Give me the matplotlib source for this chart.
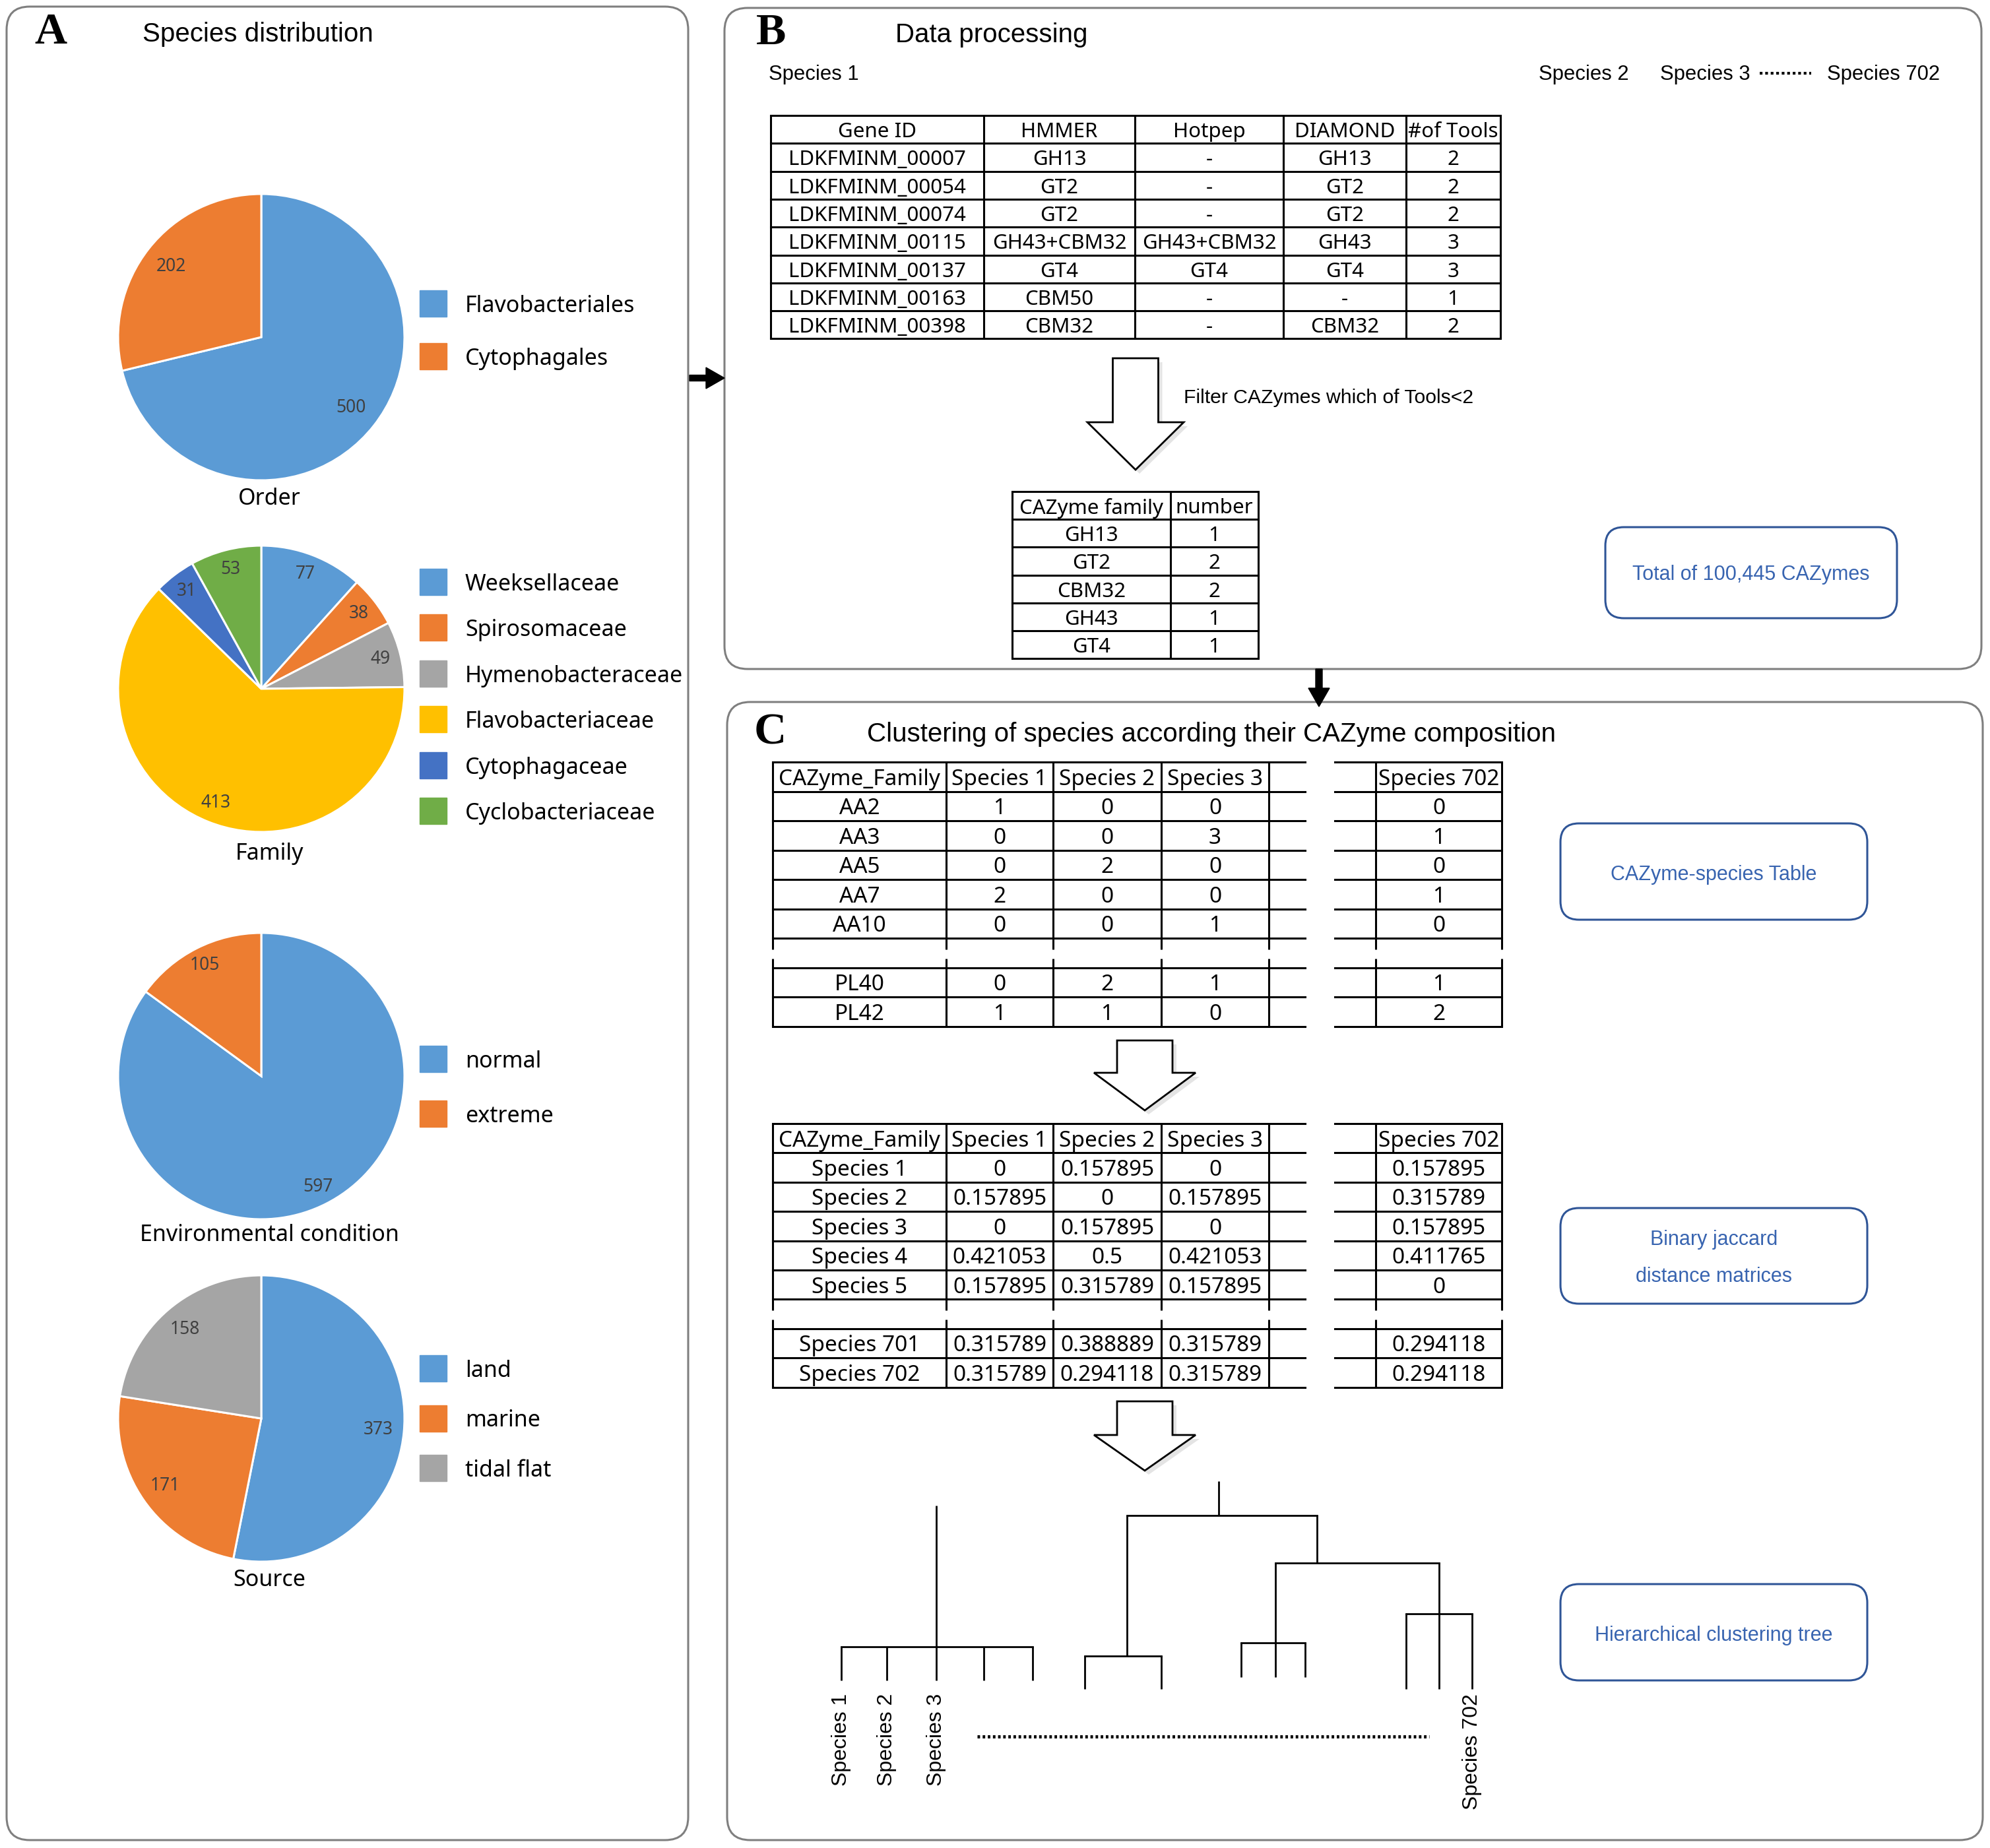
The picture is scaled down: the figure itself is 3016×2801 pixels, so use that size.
import matplotlib.pyplot as plt
from matplotlib.patches import FancyBboxPatch, Rectangle, Polygon, FancyArrow

W, H = 3016, 2801
SANS = ['Noto Sans', 'DejaVu Sans']
ARIAL = ['Liberation Sans', 'DejaVu Sans']
SERIF = ['Liberation Serif', 'DejaVu Serif']

# ---------------- panel A data
order_names = ["Flavobacteriales", "Cytophagales"]
order_n = [500, 202]
family_names = ["Weeksellaceae", "Spirosomaceae", "Hymenobacteraceae",
                "Flavobacteriaceae", "Cytophagaceae", "Cyclobacteriaceae"]
family_n = [77, 38, 49, 413, 31, 53]
env_names = ["normal", "extreme"]
env_n = [597, 105]
source_names = ["land", "marine", "tidal flat"]
source_n = [373, 171, 158]

# ---------------- panel B data
top_species = ["Species 1", "Species 2", "Species 3", "Species 702"]
b_header = ["Gene ID", "HMMER", "Hotpep", "DIAMOND", "#of Tools"]
gene_id = ["LDKFMINM_00007", "LDKFMINM_00054", "LDKFMINM_00074", "LDKFMINM_00115",
           "LDKFMINM_00137", "LDKFMINM_00163", "LDKFMINM_00398"]
hmmer = ["GH13", "GT2", "GT2", "GH43+CBM32", "GT4", "CBM50", "CBM32"]
hotpep = ["-", "-", "-", "GH43+CBM32", "GT4", "-", "-"]
diamond = ["GH13", "GT2", "GT2", "GH43", "GT4", "-", "CBM32"]
n_tools = [2, 2, 2, 3, 3, 1, 2]
fam_header = ["CAZyme family", "number"]
fam_name = ["GH13", "GT2", "CBM32", "GH43", "GT4"]
fam_num = [1, 2, 2, 1, 1]

# ---------------- panel C data
c_header = ["CAZyme_Family", "Species 1", "Species 2", "Species 3", "Species 702"]
cazy_rows = ["AA2", "AA3", "AA5", "AA7", "AA10", "PL40", "PL42"]
cnt_sp1 = [1, 0, 0, 2, 0, 0, 1]
cnt_sp2 = [0, 0, 2, 0, 0, 2, 1]
cnt_sp3 = [0, 3, 0, 0, 1, 1, 0]
cnt_sp702 = [0, 1, 0, 1, 0, 1, 2]
dist_rows = ["Species 1", "Species 2", "Species 3", "Species 4", "Species 5",
             "Species 701", "Species 702"]
dist_sp1 = ["0", "0.157895", "0", "0.421053", "0.157895", "0.315789", "0.315789"]
dist_sp2 = ["0.157895", "0", "0.157895", "0.5", "0.315789", "0.388889", "0.294118"]
dist_sp3 = ["0", "0.157895", "0", "0.421053", "0.157895", "0.315789", "0.315789"]
dist_sp702 = ["0.157895", "0.315789", "0.157895", "0.411765", "0", "0.294118", "0.294118"]
tree_labels = ["Species 1", "Species 2", "Species 3", "Species 702"]

blue, orange, grey = '#5B9BD5', '#ED7D31', '#A5A5A5'
yellow, dblue, green = '#FFC000', '#4472C4', '#70AD47'
boxblue = '#2F5597'
LW = 2.2

fig = plt.figure(figsize=(W / 100, H / 100), dpi=100)
ax = fig.add_axes([0, 0, 1, 1])
ax.set_xlim(0, W)
ax.set_ylim(H, 0)
ax.axis('off')


def frame(x0, y0, x1, y1, ec='#7f7f7f', r=35, lw=2.2):
    ax.add_patch(FancyBboxPatch((x0, y0), x1 - x0, y1 - y0,
                                boxstyle=f'round,pad=0,rounding_size={r}',
                                fc='none', ec=ec, lw=lw, zorder=1))


def txt(x, y, s, size, fam=SANS, **kw):
    kw.setdefault('ha', 'center')
    kw.setdefault('va', 'center')
    if kw['va'] == 'center':
        y = y + 4
    ax.text(x, y, s, fontsize=size, family=fam, zorder=5, **kw)


def hline(y, x0, x1, lw=LW):
    ax.plot([x0, x1], [y, y], color='k', lw=lw, solid_capstyle='projecting', zorder=3)


def vline(x, y0, y1, lw=LW):
    ax.plot([x, x], [y0, y1], color='k', lw=lw, solid_capstyle='butt', zorder=3)


# ---------------- frames and labels
frame(10, 10, 1043, 2789)
frame(1098, 12, 3003, 1014)
frame(1102, 1064, 3005, 2789)
txt(52, 66, "A", 49, SERIF, ha='left', va='baseline', weight='bold')
txt(1146, 67, "B", 49, SERIF, ha='left', va='baseline', weight='bold')
txt(1143, 1128, "C", 49, SERIF, ha='left', va='baseline', weight='bold')
txt(216, 48, "Species distribution", 29, ARIAL, ha='left')
txt(1357, 49, "Data processing", 29, ARIAL, ha='left')
txt(1314, 1109, "Clustering of species according their CAZyme composition", 29, ARIAL, ha='left')

# connecting arrows
ax.add_patch(FancyArrow(1045, 573, 53, 0, width=9, head_width=32, head_length=28,
                        length_includes_head=True, color='k', zorder=4))
ax.add_patch(FancyArrow(1999, 1014, 0, 57, width=10, head_width=32, head_length=28,
                        length_includes_head=True, color='k', zorder=4))


# ---------------- panel A pies
def pie(cx, cy, r, counts, names, colors, pctd, title, title_y, leg_y0, leg_dy):
    m = 1.04
    a = fig.add_axes([(cx - r * m) / W, 1 - (cy + r * m) / H, 2 * r * m / W, 2 * r * m / H])
    tot = sum(counts)
    a.pie(counts, colors=colors, startangle=90, counterclock=False, radius=1,
          autopct=lambda p: f'{p * tot / 100:.0f}', pctdistance=pctd,
          wedgeprops=dict(edgecolor='white', linewidth=2.2),
          textprops=dict(family=SANS, fontsize=19, color='#404040'))
    a.set_xlim(-m, m)
    a.set_ylim(-m, m)
    a.set_aspect('equal')
    a.axis('off')
    txt(408, title_y, title, 24.5)
    for i, (nm, c) in enumerate(zip(names, colors)):
        y = leg_y0 + i * leg_dy
        ax.add_patch(Rectangle((636, y - 20), 41, 40, color=c, zorder=3))
        txt(705, y, nm, 24.5, ha='left')


pie(396, 511, 217, order_n, order_names, [blue, orange], 0.8, "Order", 752, 460, 80)
pie(396, 1044, 217, family_n, family_names, [blue, orange, grey, yellow, dblue, green],
    0.86, "Family", 1290, 882, 69.4)
pie(396, 1631, 217, env_n, env_names, [blue, orange], 0.87,
    "Environmental condition", 1868, 1605, 83)
pie(396, 2150, 217, source_n, source_names, [blue, orange, grey], 0.82,
    "Source", 2391, 2074, 75.5)

# ---------------- panel B
txt(1165, 109, top_species[0], 22.3, ARIAL, ha='left')
txt(2332, 109, top_species[1], 22.3, ARIAL, ha='left')
txt(2516, 109, top_species[2], 22.3, ARIAL, ha='left')
txt(2769, 109, top_species[3], 22.3, ARIAL, ha='left')
ax.plot([2667, 2745], [111, 111], color='k', lw=3, ls=(0, (1, 1)))


def grid_table(xs, top, rh, columns, size):
    nrow = len(columns[0])
    ys = [top + rh * k for k in range(nrow + 1)]
    for y in ys:
        hline(y, xs[0], xs[-1])
    for x in xs:
        vline(x, ys[0], ys[-1])
    for j, col in enumerate(columns):
        xc = (xs[j] + xs[j + 1]) / 2
        for i, v in enumerate(col):
            txt(xc, (ys[i] + ys[i + 1]) / 2, str(v), size)


b_cols = [[h] + list(c) for h, c in zip(b_header, [gene_id, hmmer, hotpep, diamond, n_tools])]
grid_table([1168, 1491, 1720, 1945, 2131, 2274], 175, 42.3, b_cols, 22.5)
f_cols = [[h] + list(c) for h, c in zip(fam_header, [fam_name, fam_num])]
grid_table([1534, 1774, 1907], 745, 42.2, f_cols, 22.5)


def hollow_arrow(cx, sw, hw, top, neck, tip):
    pts = [(cx - sw / 2, top), (cx + sw / 2, top), (cx + sw / 2, neck), (cx + hw / 2, neck),
           (cx, tip), (cx - hw / 2, neck), (cx - sw / 2, neck)]
    ax.add_patch(Polygon([(x + 6, y + 6) for x, y in pts], closed=True, fc='#e4e4e4',
                         ec='none', zorder=2))
    ax.add_patch(Polygon(pts, closed=True, fc='white', ec='k', lw=2, zorder=3))


hollow_arrow(1721, 69, 146, 543, 640, 712)
txt(1794, 599, "Filter CAZymes which of Tools<2", 21.7, ARIAL, ha='left')


def blue_box(x0, y0, x1, y1, lines, ys):
    frame(x0, y0, x1, y1, ec=boxblue, r=28, lw=2.2)
    for s, y in zip(lines, ys):
        txt((x0 + x1) / 2, y, s, 22, ARIAL, color='#3864B0')


blue_box(2433, 799, 2875, 937, ["Total of 100,445 CAZymes"], [867])

# ---------------- panel C tables
C_X1 = [1171, 1434, 1596, 1760, 1923]
C_END1, C_X2 = 1978, [2023, 2085, 2276]


def split_table(top, rh, header, cols):
    ys = [top + rh * k for k in range(10)]
    for y in ys:
        hline(y, C_X1[0], C_END1)
        hline(y, C_X2[0], C_X2[-1])
    for x in C_X1 + C_X2[1:]:
        vline(x, ys[0], ys[6] + 0.38 * rh)
        vline(x, ys[7] - 0.3 * rh, ys[9])
    centers = [(C_X1[j] + C_X1[j + 1]) / 2 for j in range(4)] + [(C_X2[1] + C_X2[2]) / 2]
    rows = [1, 2, 3, 4, 5, 7, 8]
    for j, h in enumerate(header):
        txt(centers[j], (ys[0] + ys[1]) / 2, h, 24)
    for j, col in enumerate(cols):
        for r, v in zip(rows, col):
            txt(centers[j], (ys[r] + ys[r + 1]) / 2, str(v), 24)


split_table(1155, 44.5, c_header, [cazy_rows, cnt_sp1, cnt_sp2, cnt_sp3, cnt_sp702])
split_table(1703, 44.4, c_header, [dist_rows, dist_sp1, dist_sp2, dist_sp3, dist_sp702])

hollow_arrow(1735, 84, 154, 1577, 1626, 1683)
hollow_arrow(1735, 84, 154, 2124, 2175, 2229)

blue_box(2365, 1248, 2830, 1394, ["CAZyme-species Table"], [1322])
blue_box(2365, 1831, 2830, 1976, ["Binary jaccard", "distance matrices"], [1875, 1931])
blue_box(2365, 2401, 2830, 2547, ["Hierarchical clustering tree"], [2475])

# ---------------- dendrogram sketch
DL = 2.0
# left cluster
for x in [1275, 1344, 1419, 1491, 1565]:
    vline(x, 2496, 2547, DL)
hline(2496, 1275, 1565, DL)
vline(1419, 2282, 2496, DL)
# right tree
vline(1847, 2245, 2297, DL)
hline(2297, 1708, 1996, DL)
vline(1708, 2297, 2510, DL)
hline(2510, 1644, 1760, DL)
for x in [1644, 1760]:
    vline(x, 2510, 2560, DL)
vline(1996, 2297, 2369, DL)
hline(2369, 1933, 2181, DL)
vline(1933, 2369, 2490, DL)
hline(2490, 1881, 1978, DL)
for x in [1881, 1933, 1978]:
    vline(x, 2490, 2542, DL)
vline(2181, 2369, 2446, DL)
hline(2446, 2131, 2231, DL)
for x in [2131, 2181, 2231]:
    vline(x, 2446, 2560, DL)

for x, s in zip([1275, 1344, 1419, 2231], tree_labels):
    txt(x, 2567, s, 23, ARIAL, rotation=90, va='top')
ax.plot([1481, 2166], [2632, 2632], color='k', lw=3.5, ls=(0, (0.8, 0.8)))

fig.savefig('out.png', dpi=100)
